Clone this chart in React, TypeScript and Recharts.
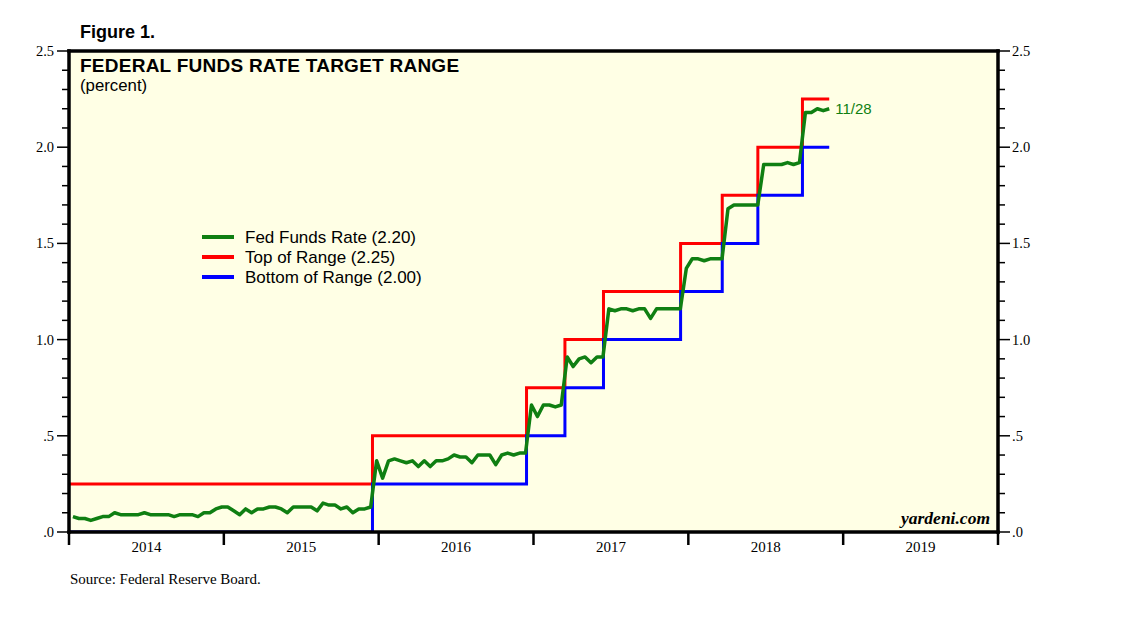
import { LineChart, Line, XAxis, YAxis, CartesianGrid, Legend, ReferenceLine } from 'recharts';

// biweekly readings of the effective fed funds rate, one list per year
const ffr2014 = [
  0.08, 0.07, 0.07, 0.06, 0.07, 0.08, 0.08, 0.1, 0.09, 0.09, 0.09, 0.09, 0.1,
  0.09, 0.09, 0.09, 0.09, 0.08, 0.09, 0.09, 0.09, 0.08, 0.1, 0.1, 0.12, 0.13,
];
const ffr2015 = [
  0.13, 0.11, 0.09, 0.12, 0.1, 0.12, 0.12, 0.13, 0.13, 0.12, 0.1, 0.13, 0.13,
  0.13, 0.13, 0.11, 0.15, 0.14, 0.14, 0.12, 0.13, 0.1, 0.12, 0.12, 0.13, 0.37,
];
const ffr2016 = [
  0.28, 0.37, 0.38, 0.37, 0.36, 0.37, 0.34, 0.37, 0.34, 0.37, 0.37, 0.38, 0.4,
  0.39, 0.39, 0.36, 0.4, 0.4, 0.4, 0.35, 0.4, 0.41, 0.4, 0.41, 0.41, 0.66,
];
const ffr2017 = [
  0.6, 0.66, 0.66, 0.65, 0.66, 0.91, 0.86, 0.9, 0.91, 0.88, 0.91, 0.91, 1.16,
  1.15, 1.16, 1.16, 1.15, 1.16, 1.16, 1.11, 1.16, 1.16, 1.16, 1.16, 1.16, 1.37,
];
const ffr2018 = [
  1.42, 1.42, 1.41, 1.42, 1.42, 1.42, 1.68, 1.7, 1.7, 1.7, 1.7, 1.7,
  1.91, 1.91, 1.91, 1.91, 1.92, 1.91, 1.92, 2.18, 2.18, 2.2, 2.19, 2.2,
];
const ffrYears: [number, number[]][] = [
  [2014, ffr2014],
  [2015, ffr2015],
  [2016, ffr2016],
  [2017, ffr2017],
  [2018, ffr2018],
];

// FOMC target range changes
const hikeDates = [2014.0, 2015.96, 2016.955, 2017.203, 2017.452, 2017.95, 2018.219, 2018.449, 2018.737, 2018.91];
const topOfRange = [0.25, 0.5, 0.75, 1.0, 1.25, 1.5, 1.75, 2.0, 2.25, 2.25];
const bottomOfRange = [0, 0.25, 0.5, 0.75, 1.0, 1.25, 1.5, 1.75, 2.0, 2.0];

const lastDateLabel = '11/28';

const yTicks = [0, 0.1, 0.2, 0.3, 0.4, 0.5, 0.6, 0.7, 0.8, 0.9, 1.0, 1.1, 1.2, 1.3, 1.4, 1.5, 1.6, 1.7, 1.8, 1.9, 2.0, 2.1, 2.2, 2.3, 2.4, 2.5];
const xTicks = [2014, 2014.5, 2015, 2015.5, 2016, 2016.5, 2017, 2017.5, 2018, 2018.5, 2019, 2019.5, 2020];

const fedFunds = ffrYears.flatMap(([yr, vals]) => vals.map((v, i) => ({ t: yr + (i + 0.66) / 26, v })));
const topData = hikeDates.map((t, i) => ({ t, v: topOfRange[i] }));
const bottomData = hikeDates.map((t, i) => ({ t, v: bottomOfRange[i] }));

const GREEN = '#0f7f12';
const RED = '#ff0000';
const BLUE = '#0000ff';
const SANS = '"Liberation Sans", Arial, sans-serif';
const SERIF = '"Liberation Serif", "Times New Roman", serif';

const isMajor = (v: number) => Math.abs(v * 2 - Math.round(v * 2)) < 1e-6;
const fmtY = (v: number) => v.toFixed(1).replace(/^0/, '');

const LeftTick = (props: any) => {
  const { x, y, payload } = props;
  const major = isMajor(payload.value);
  return (
    <g>
      <line x1={x - (major ? 12 : 7)} x2={x} y1={y} y2={y} stroke="#000" strokeWidth={1.5} />
      {major && (
        <text x={x - 15} y={y + 5} textAnchor="end" fontFamily={SERIF} fontSize={14.5} fill="#000">
          {fmtY(payload.value)}
        </text>
      )}
    </g>
  );
};

const RightTick = (props: any) => {
  const { x, y, payload } = props;
  const major = isMajor(payload.value);
  return (
    <g>
      <line x1={x} x2={x + (major ? 12 : 7)} y1={y} y2={y} stroke="#000" strokeWidth={1.5} />
      {major && (
        <text x={x + 14} y={y + 5} textAnchor="start" fontFamily={SERIF} fontSize={14.5} fill="#000">
          {fmtY(payload.value)}
        </text>
      )}
    </g>
  );
};

const YearTick = (props: any) => {
  const { x, y, payload } = props;
  const v = payload.value;
  if (Number.isInteger(v)) {
    return <line x1={x} x2={x} y1={y} y2={y + 13} stroke="#000" strokeWidth={2.5} />;
  }
  return (
    <text x={x} y={y + 20} textAnchor="middle" fontFamily={SERIF} fontSize={15} fill="#000">
      {Math.floor(v)}
    </text>
  );
};

const legendRows = [
  { label: `Fed Funds Rate (${ffr2018[ffr2018.length - 1].toFixed(2)})`, color: GREEN },
  { label: `Top of Range (${topOfRange[topOfRange.length - 1].toFixed(2)})`, color: RED },
  { label: `Bottom of Range (${bottomOfRange[bottomOfRange.length - 1].toFixed(2)})`, color: BLUE },
];

const LegendBox = () => (
  <div style={{ fontFamily: SANS, fontSize: 17, color: '#000' }}>
    {legendRows.map((r) => (
      <div key={r.label} style={{ display: 'flex', alignItems: 'center', height: 20 }}>
        <svg width={32} height={6}>
          <line x1={0} x2={32} y1={3} y2={3} stroke={r.color} strokeWidth={4} />
        </svg>
        <span style={{ marginLeft: 11, lineHeight: 1 }}>{r.label}</span>
      </div>
    ))}
  </div>
);

const lastIndex = fedFunds.length - 1;
const RateLabel = (props: any) => {
  const { x, y, index } = props;
  if (index !== lastIndex) return null;
  return (
    <text x={x + 6} y={y + 5} fontFamily={SANS} fontSize={15} fill={GREEN}>
      {lastDateLabel}
    </text>
  );
};

export default function App() {
  return (
    <div style={{ position: 'absolute', left: 0, top: 0, width: 1138, height: 621, background: '#fff' }}>
      <LineChart width={1138} height={621} margin={{ top: 51, right: 80, bottom: 49, left: 9 }}>
        <CartesianGrid fill="#ffffe5" horizontal={false} vertical={false} yAxisId="left" />
        <XAxis
          dataKey="t"
          type="number"
          domain={[2014, 2020]}
          ticks={xTicks}
          interval={0}
          allowDataOverflow
          height={40}
          tickSize={0}
          tickMargin={0}
          tick={YearTick}
          axisLine={{ stroke: '#000', strokeWidth: 3.5, strokeLinecap: 'square' }}
        />
        <YAxis
          yAxisId="left"
          type="number"
          domain={[0, 2.5]}
          ticks={yTicks}
          interval={0}
          allowDataOverflow
          width={60}
          tickSize={0}
          tickMargin={0}
          tick={LeftTick}
          axisLine={{ stroke: '#000', strokeWidth: 3.5, strokeLinecap: 'square' }}
        />
        <YAxis
          yAxisId="right"
          orientation="right"
          type="number"
          domain={[0, 2.5]}
          ticks={yTicks}
          interval={0}
          allowDataOverflow
          width={60}
          tickSize={0}
          tickMargin={0}
          tick={RightTick}
          axisLine={{ stroke: '#000', strokeWidth: 3.5, strokeLinecap: 'square' }}
        />
        <ReferenceLine yAxisId="left" y={2.5} stroke="#000" strokeWidth={3.5} strokeLinecap="square" />
        <Legend
          layout="vertical"
          align="center"
          verticalAlign="middle"
          content={<LegendBox />}
          wrapperStyle={{ left: 202, top: 227, width: 260 }}
        />
        <Line
          yAxisId="left"
          data={topData}
          dataKey="v"
          type="stepAfter"
          stroke={RED}
          strokeWidth={3}
          dot={false}
          activeDot={false}
          isAnimationActive={false}
        />
        <Line
          yAxisId="left"
          data={bottomData}
          dataKey="v"
          type="stepAfter"
          stroke={BLUE}
          strokeWidth={3}
          dot={false}
          activeDot={false}
          isAnimationActive={false}
        />
        <Line
          yAxisId="left"
          data={fedFunds}
          dataKey="v"
          type="linear"
          stroke={GREEN}
          strokeWidth={3.5}
          strokeLinejoin="round"
          dot={false}
          activeDot={false}
          label={RateLabel}
          isAnimationActive={false}
        />
      </LineChart>

      <div style={{ position: 'absolute', left: 80, top: 23, fontFamily: SANS, fontWeight: 'bold', fontSize: 18, lineHeight: 1 }}>
        Figure 1.
      </div>
      <div style={{ position: 'absolute', left: 80, top: 55.5, fontFamily: SANS, fontWeight: 'bold', fontSize: 19, letterSpacing: 0.25, lineHeight: 1 }}>
        FEDERAL FUNDS RATE TARGET RANGE
      </div>
      <div style={{ position: 'absolute', left: 80, top: 78, fontFamily: SANS, fontSize: 16.8, lineHeight: 1 }}>
        (percent)
      </div>
      <div style={{ position: 'absolute', right: 148, top: 510, fontFamily: SERIF, fontWeight: 'bold', fontStyle: 'italic', fontSize: 17.5, lineHeight: 1 }}>
        yardeni.com
      </div>
      <div style={{ position: 'absolute', left: 70, top: 572, fontFamily: SERIF, fontSize: 15, lineHeight: 1 }}>
        Source: Federal Reserve Board.
      </div>
    </div>
  );
}
